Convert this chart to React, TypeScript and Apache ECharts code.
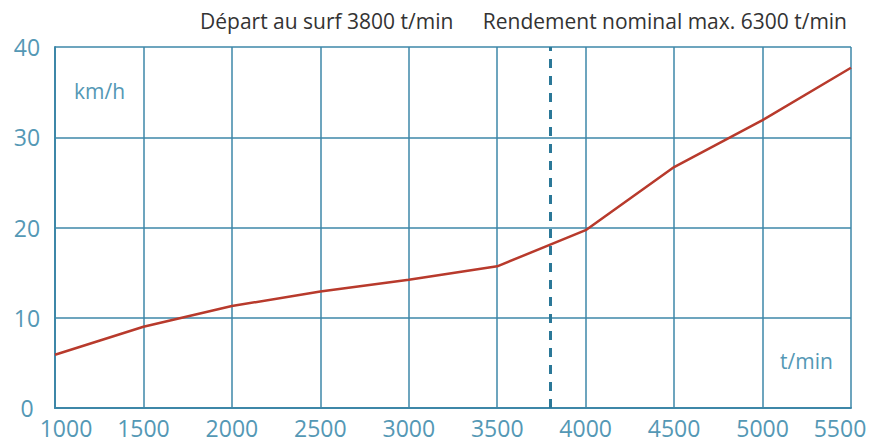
import React, { useEffect, useRef } from "react";
import * as echarts from "echarts";

const speeds = [1000, 1500, 2000, 2500, 3000, 3500, 4000, 4500, 5000, 5500];
const kmh = [5.9, 9.0, 11.3, 12.9, 14.2, 15.7, 19.7, 26.7, 31.9, 37.7];
const surfStart = 3800;
const titleLeft = "Départ au surf 3800 t/min";
const titleRight = "Rendement nominal max. 6300 t/min";
const yUnit = "km/h";
const xUnit = "t/min";

const FONT = "'Open Sans', Lato, sans-serif";
const GRID = "#3d87a8";
const LABEL = "#5498b5";

export default function App() {
  const ref = useRef<HTMLDivElement>(null);
  useEffect(() => {
    document.body.style.margin = "0";
    document.body.style.overflow = "hidden";
    const chart = echarts.init(ref.current!, null, { renderer: "svg" });
    const richBase = { color: LABEL, fontSize: 23, fontFamily: FONT };
    chart.setOption({
      animation: false,
      grid: { left: 55, right: 19, top: 47, bottom: 34, outerBoundsMode: "none", containLabel: false },
      xAxis: {
        type: "value",
        min: 1000,
        max: 5500,
        interval: 500,
        axisLine: { show: true, lineStyle: { color: GRID, width: 2 } },
        axisTick: { show: false },
        splitLine: { show: true, lineStyle: { color: GRID, width: 1.5 } },
        axisLabel: {
          color: LABEL,
          fontSize: 23,
          fontFamily: FONT,
          margin: 8,
          formatter: (v: number) =>
            v === speeds[0] ? `{first|${v}}` : v === speeds[speeds.length - 1] ? `{last|${v}}` : String(v),
          rich: {
            first: { ...richBase, padding: [0, 0, 0, 22] },
            last: { ...richBase, padding: [0, 22, 0, 0] },
          },
        },
      },
      yAxis: {
        type: "value",
        min: 0,
        max: 40,
        interval: 10,
        axisLine: { show: true, lineStyle: { color: GRID, width: 2 } },
        axisTick: { show: false },
        splitLine: { show: true, lineStyle: { color: GRID, width: 1.5 } },
        axisLabel: { color: LABEL, fontSize: 23, fontFamily: FONT, margin: 28, align: "center" },
      },
      graphic: [
        { type: "text", left: 200, top: 10, style: { text: titleLeft, fill: "#333", fontSize: 21, fontFamily: FONT } },
        { type: "text", right: 23, top: 10, style: { text: titleRight, fill: "#333", fontSize: 21, fontFamily: FONT } },
        { type: "text", left: 74, top: 80, style: { text: yUnit, fill: LABEL, fontSize: 21, fontFamily: FONT } },
        { type: "text", left: 780, top: 350, style: { text: xUnit, fill: LABEL, fontSize: 21, fontFamily: FONT } },
      ],
      series: [
        {
          type: "line",
          data: speeds.map((s, i) => [s, kmh[i]]),
          symbol: "none",
          lineStyle: { color: "#b83a2c", width: 2.5 },
          z: 3,
          markLine: {
            silent: true,
            symbol: "none",
            label: { show: false },
            lineStyle: { color: "#2b7898", width: 3, type: [9, 8] },
            data: [{ xAxis: surfStart }],
          },
        },
      ],
    });
    return () => chart.dispose();
  }, []);
  return <div ref={ref} style={{ width: 870, height: 442, position: "absolute", left: 0, top: 0, background: "#fff" }} />;
}
